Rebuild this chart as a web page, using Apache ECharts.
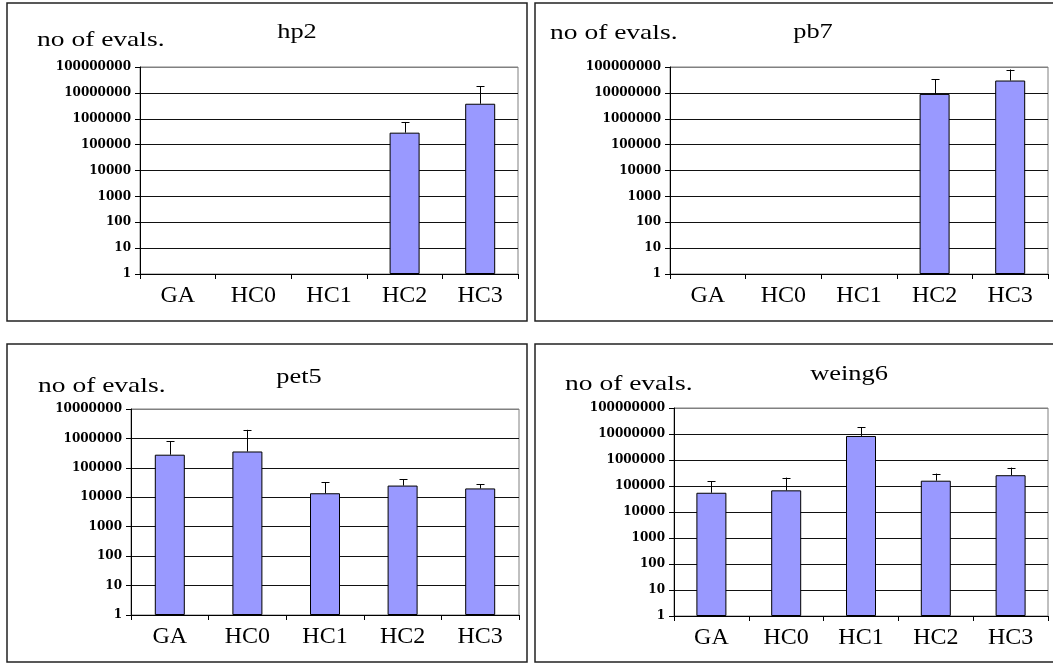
<!DOCTYPE html>
<html>
<head>
<meta charset="utf-8">
<script src="https://cdn.jsdelivr.net/npm/echarts@6/dist/echarts.min.js"></script>
<style>
  html, body { margin: 0; padding: 0; background: #fff; }
  #main { width: 1053px; height: 664px; }
</style>
</head>
<body>
<div id="main"></div>
<script>
// categories + values (log scale)
const categories = ['GA', 'HC0', 'HC1', 'HC2', 'HC3'];

const hp2Values = [null, null, null, 290000, 3800000];
const hp2ErrTop = [null, null, null, 750000, 18000000];

const pb7Values = [null, null, null, 9100000, 30000000];
const pb7ErrTop = [null, null, null, 33000000, 80000000];

const pet5Values = [280000, 360000, 13700, 25000, 20000];
const pet5ErrTop = [790000, 1960000, 32000, 41000, 28000];

const weing6Values = [55000, 68000, 8400000, 160000, 260000];
const weing6ErrTop = [150000, 210000, 18600000, 300000, 510000];

const yMaxes = [100000000, 100000000, 10000000, 100000000];
const panelNames = ['hp2', 'pb7', 'pet5', 'weing6'];
const yTitle = 'no of evals.';

// layout of the four boxes
const panels = [
  { values: hp2Values, err: hp2ErrTop, box: [7, 3, 520, 318], grid: { left: 140, top: 67, width: 378, height: 207 }, tx: 297, ty: 38, lx: 37, ly: 46 },
  { values: pb7Values, err: pb7ErrTop, box: [535, 3, 530, 318], grid: { left: 670, top: 67, width: 378, height: 207 }, tx: 813, ty: 38, lx: 550, ly: 39 },
  { values: pet5Values, err: pet5ErrTop, box: [7, 344, 520, 318], grid: { left: 131, top: 409, width: 388, height: 206 }, tx: 299, ty: 383, lx: 38, ly: 392 },
  { values: weing6Values, err: weing6ErrTop, box: [535, 344, 530, 318], grid: { left: 674, top: 408, width: 374, height: 208 }, tx: 849, ty: 380, lx: 565, ly: 390 }
];

const serif = '"Liberation Serif", "Times New Roman", Times, serif';

const chart = echarts.init(document.getElementById('main'));

const grids = [], xAxes = [], yAxes = [], series = [], graphics = [];

panels.forEach(function (p, i) {
  grids.push(Object.assign({ show: true, borderColor: '#808080', borderWidth: 1, backgroundColor: 'transparent' }, p.grid));

  xAxes.push({
    type: 'category',
    gridIndex: i,
    data: categories,
    boundaryGap: true,
    axisLine: { lineStyle: { color: '#000', width: 1 } },
    axisTick: { show: true, alignWithLabel: false, length: 5, lineStyle: { color: '#000' } },
    axisLabel: { color: '#000', fontFamily: serif, fontSize: 24, margin: 10, interval: 0 },
    splitLine: { show: false }
  });

  const decades = Math.round(Math.log10(yMaxes[i]));
  const lineColors = [];
  for (let k = 0; k <= decades; k++) lineColors.push(k === decades ? '#808080' : '#111');

  yAxes.push({
    type: 'log',
    logBase: 10,
    gridIndex: i,
    min: 1,
    max: yMaxes[i],
    splitNumber: decades,
    axisLine: { show: true, lineStyle: { color: '#000', width: 1 } },
    axisTick: { show: true, length: 5, lineStyle: { color: '#000' } },
    axisLabel: {
      color: '#000', fontFamily: 'DejaVu Serif', fontWeight: 'bold', fontSize: 12, margin: 9,
      formatter: function (v) { return String(Math.round(v)); }
    },
    splitLine: { show: true, lineStyle: { color: lineColors, width: 1 } }
  });

  series.push({
    type: 'bar',
    xAxisIndex: i,
    yAxisIndex: i,
    data: p.values.map(v => v == null ? '-' : v),
    barWidth: 30,
    itemStyle: { color: '#9999FF', borderColor: '#000', borderWidth: 1 },
    silent: true
  });

  // upper error bars
  const errData = [];
  p.values.forEach(function (v, k) {
    if (v != null && p.err[k] != null) errData.push([k, v, p.err[k]]);
  });
  series.push({
    type: 'custom',
    xAxisIndex: i,
    yAxisIndex: i,
    z: 5,
    silent: true,
    data: errData,
    renderItem: function (params, api) {
      const a = api.coord([api.value(0), api.value(1)]);
      const b = api.coord([api.value(0), api.value(2)]);
      const x = Math.round(a[0]) + 0.5;
      return {
        type: 'group',
        children: [
          { type: 'line', shape: { x1: x, y1: a[1], x2: x, y2: b[1] }, style: { stroke: '#000', lineWidth: 1 } },
          { type: 'line', shape: { x1: x - 4, y1: Math.round(b[1]) + 0.5, x2: x + 4, y2: Math.round(b[1]) + 0.5 }, style: { stroke: '#000', lineWidth: 1 } }
        ]
      };
    }
  });

  graphics.push({
    type: 'rect',
    shape: { x: p.box[0], y: p.box[1], width: p.box[2], height: p.box[3] },
    style: { fill: 'none', stroke: '#222', lineWidth: 1.5 },
    silent: true
  });
  graphics.push({
    type: 'text', x: p.tx, y: p.ty + 5, scaleX: 1.2, silent: true,
    style: { x: 0, y: 0, text: panelNames[i], font: '22px ' + serif, fill: '#000', align: 'center', verticalAlign: 'bottom' }
  });
  graphics.push({
    type: 'text', x: p.lx, y: p.ly + 5, scaleX: 1.25, silent: true,
    style: { x: 0, y: 0, text: yTitle, font: '22px ' + serif, fill: '#000', align: 'left', verticalAlign: 'bottom' }
  });
});

chart.setOption({
  animation: false,
  backgroundColor: '#fff',
  grid: grids,
  xAxis: xAxes,
  yAxis: yAxes,
  series: series,
  graphic: graphics
});
</script>
</body>
</html>
